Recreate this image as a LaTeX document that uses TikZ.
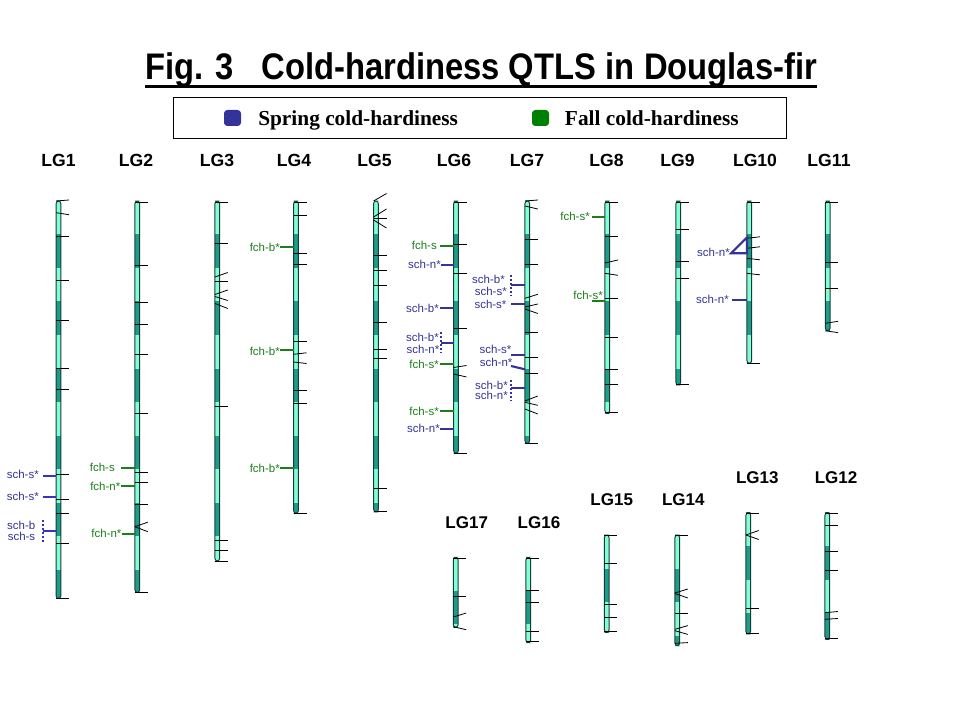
\documentclass[tikz,border=0pt]{standalone}
\usepackage{fontspec}
\setmainfont{Liberation Sans}
\newfontfamily\legserif{Liberation Serif}
\definecolor{lightband}{HTML}{80FFD6}
\definecolor{darkband}{HTML}{1A9E88}
\definecolor{barline}{HTML}{1A3A3A}
\definecolor{qblue}{HTML}{333399}
\definecolor{qblueb}{HTML}{3535C0}
\definecolor{qgreen}{HTML}{1A7F1A}
\definecolor{leggreen}{HTML}{008000}
\newcommand\chrom[3]{%
  \begin{scope}
    \clip[rounded corners=2] ({#1-2.4},#2) rectangle ({#1+2.4},#3);
    \fill[lightband] ({#1-2.4},#2) rectangle ({#1+2.4},#3);
    \foreach \k in {1,3,5,7,9,11,13} {
      \fill[darkband] ({#1-2.4},{#2+\k*33.5}) rectangle ({#1+2.4},{#2+(\k+1)*33.5});
    }
  \end{scope}
  \draw[barout,rounded corners=2] ({#1-2.4},#2) rectangle ({#1+2.4},#3);
}
\newcommand\ticks[2]{%
  \foreach \yy/\dd in {#2} {\draw[tick] ({#1-2.4},\yy) -- ({#1+10.5},{\yy+\dd});}%
}
\begin{document}
\begin{tikzpicture}[x=0.75pt,y=-0.75pt,
  tick/.style={line width=0.6pt,black},
  barout/.style={line width=0.7pt,draw=barline},
  mkb/.style={line width=1.6pt,draw=qblue},
  mkg/.style={line width=1.6pt,draw=qgreen},
  bl/.style={text=qblue,font=\fontsize{8.6}{10}\selectfont,inner sep=0pt,anchor=east},
  gr/.style={text=qgreen,font=\fontsize{8.6}{10}\selectfont,inner sep=0pt,anchor=east},
  lg/.style={font=\fontsize{13.2}{15}\selectfont\bfseries,inner sep=0pt},
  lgs/.style={font=\fontsize{12.75}{14}\selectfont\bfseries,inner sep=0pt},
  dotsb/.style={line width=1.4pt,draw=qblue,dash pattern=on 1.4pt off 1.6pt}
]
\useasboundingbox (0,0) rectangle (960,720);
\fill[white] (0,0) rectangle (960,720);

% title
\node[anchor=base,inner sep=0pt,font=\fontsize{27.75}{30}\selectfont\bfseries] (title) at (481,80)
  {\scalebox{0.885}[1]{Fig. 3\hspace{0.85em}Cold-hardiness QTLS in\hspace{0.3em}Douglas-fir}};
\draw[line width=1.9pt] (145,86.5) -- (817,86.5);

% legend
\draw[line width=0.7pt] (173,97) rectangle (786,138);
\fill[qblue,rounded corners=2.5] (224,110) rectangle (241,126);
\fill[leggreen,rounded corners=2.5] (532,110) rectangle (549,126);
\node[anchor=base west,inner sep=0pt,font=\legserif\fontsize{16}{18}\selectfont\bfseries] (spr) at (258,126) {Spring cold-hardiness};
\node[anchor=base west,inner sep=0pt,font=\legserif\fontsize{16}{18}\selectfont\bfseries] (fal) at (564.7,126) {Fall cold-hardiness};

% LG labels
\node[lg] (t1) at (58.5,160) {LG1};
\node[lg] (t2) at (136,160) {LG2};
\node[lg] (t3) at (217,160) {LG3};
\node[lg] (t4) at (294,160) {LG4};
\node[lg] (t5) at (374.5,160) {LG5};
\node[lg] (t6) at (454,160) {LG6};
\node[lg] (t7) at (527,160) {LG7};
\node[lg] (t8) at (606.5,160) {LG8};
\node[lg] (t9) at (677.5,160) {LG9};
\node[lg] (t10) at (755,160) {LG10};
\node[lg] (t11) at (829,160) {LG11};
\node[lgs] (t17) at (466.7,522.7) {LG17};
\node[lgs] (t16) at (539,522.7) {LG16};
\node[lgs] (t15) at (611.7,500) {LG15};
\node[lgs] (t14) at (683.3,500) {LG14};
\node[lgs] (t13) at (757.3,477.3) {LG13};
\node[lgs] (t12) at (836,477.3) {LG12};

% chromosomes
\chrom{58.5}{201}{598.5}
\ticks{58.5}{201/-1,212.7/2,236.7/0,280.3/0,320.3/0,368.7/0,389.3/0,474.3/0,499.3/0,513.3/0,543.3/0,598.3/0}
\chrom{137.3}{201}{592.5}
\ticks{137.3}{202.3/0,265.7/0,302.7/0,324.3/0,354.3/0,413.3/0,472.3/0,482.3/0,504.3/0,526.7/-4.5,526.7/5,592.3/0}
\chrom{217.3}{201}{561}
\ticks{217.3}{202.3/0,243.3/0,277/-4.5,281/0,294.5/-4.5,296.5/4,303.5/5,406/0,540.3/0,550.3/0,561/0}
\chrom{296}{201}{513.3}
\ticks{296}{202.3/0,215.3/0,253.3/0,264.3/0,341.7/0,354.3/-1.5,362/1.5,390/0,403.3/0,513.3/0}
\chrom{376}{201}{512}
\ticks{376}{201/-7.5,217/-8,218.3/0,220/8,255.7/0,270.3/0,285/0,322/0,349.3/0,358.3/0,488.3/0,511.7/0}
\chrom{456}{201}{453.3}
\ticks{456}{202.3/0,244.3/0,273.3/0,328.3/0,367.5/-2,374/3,453.3/0}
\chrom{527.3}{201}{443.3}
\ticks{527.3}{201/-1,206/3,239/0,264.3/0,298.3/-4,307/-3,309/4.5,332.3/0,357.3/0,373.3/0,401/-5,402.3/3,409/5,443.3/0}
\chrom{607.3}{201}{413.3}
\ticks{607.3}{202.3/0,236.7/0,263/-3,273.3/2,298.3/0,337.3/0,369.3/0,384.3/0,412.7/0}
\chrom{678.3}{201}{385}
\ticks{678.3}{202.3/0,229.3/0,261.7/0,278.3/0,384.3/0}
\chrom{749.3}{201}{363.3}
\ticks{749.3}{202.3/0,238.3/-1.5,248.3/-1.5,258.3/1.5,273.3/1.5,363.3/0}
\chrom{827.7}{201}{330.7}
\ticks{827.7}{202.3/0,262.3/0,288.7/0,323.3/-2,330.7/2}
\chrom{455.7}{557.3}{627.3}
\ticks{455.7}{558.3/0,596/0,617/-4,626.7/3}
\chrom{528.3}{557.3}{642.7}
\ticks{528.3}{558.3/0,590.7/0,602.3/0,631.7/0,641.7/0}
\chrom{606.7}{535}{632.3}
\ticks{606.7}{535.7/0,563.7/0,604.3/0,617.3/0,631.7/0}
\chrom{677.3}{535}{645.7}
\ticks{677.3}{535.7/0,593/-4,593.5/4.5,613.3/0,629.3/-3.7,630.7/3.7,643.3/-0.7}
\chrom{748.3}{512.7}{634}
\ticks{748.3}{513.3/0,535/-4.5,535/4.5,608.3/0,633.3/0}
\chrom{827.3}{512.7}{639.3}
\ticks{827.3}{513.3/0,525.7/0,551/0,570/0,612.7/-1.2,619.3/-0.8,638.3/0}

% LG1 QTLs
\node[bl] (a1) at (39,474.3) {sch-s*};
\draw[mkb,draw=qblueb] (42.7,476) -- (56.1,476);
\node[bl] (a2) at (39,496.7) {sch-s*};
\draw[mkb,draw=qblueb] (42.7,497) -- (56.1,497);
\node[bl] (a3) at (35.5,525) {sch-b};
\node[bl] (a4) at (35.5,536.7) {sch-s};
\draw[dotsb,draw=qblueb] (42.7,520) -- (42.7,542);
\draw[mkb,draw=qblueb] (42.7,530.7) -- (56.1,530.7);

% LG2 QTLs
\node[gr] (b1) at (115,467.7) {fch-s};
\draw[mkg] (121,467.7) -- (134.9,467.7);
\node[gr] (b2) at (120.5,486) {fch-n*};
\draw[mkg] (121,486) -- (134.9,486);
\node[gr] (b3) at (121.7,533.3) {fch-n*};
\draw[mkg] (121.7,534) -- (134.9,534);

% LG4 QTLs
\node[gr] (c1) at (280,247.3) {fch-b*};
\draw[mkg] (280,247) -- (293.6,247);
\node[gr] (c2) at (280,351) {fch-b*};
\draw[mkg] (280,350) -- (293.6,350);
\node[gr] (c3) at (280,468.3) {fch-b*};
\draw[mkg] (280,467.7) -- (293.6,467.7);

% LG6 QTLs
\node[gr] (d1) at (437,245.7) {fch-s};
\draw[mkg] (440,246) -- (453.6,246);
\node[bl] (d2) at (441,264) {sch-n*};
\draw[mkb] (440.7,264.7) -- (453.6,264.7);
\node[bl] (d3) at (439,308.3) {sch-b*};
\draw[mkb] (440,308) -- (453.6,308);
\node[bl] (d4) at (439,337) {sch-b*};
\node[bl] (d5) at (439.5,349.3) {sch-n*};
\draw[dotsb] (441,331.7) -- (441,353.3);
\draw[mkb] (441,342.7) -- (453.6,342.7);
\node[gr] (d6) at (439,364.3) {fch-s*};
\draw[mkg] (440,364) -- (453.6,364);
\node[gr] (d7) at (439,411) {fch-s*};
\draw[mkg] (440,411) -- (453.6,411);
\node[bl] (d8) at (440,428.3) {sch-n*};
\draw[mkb] (440,428.7) -- (453.6,428.7);

% LG7 QTLs
\node[bl] (e1) at (505,279.3) {sch-b*};
\node[bl] (e2) at (507,291.7) {sch-s*};
\draw[dotsb] (511,275) -- (511,296);
\draw[mkb] (511,285.3) -- (524.9,285.3);
\node[bl] (e3) at (506.7,304) {sch-s*};
\draw[mkb] (511,303.7) -- (524.9,303.7);
\node[bl] (e4) at (511.7,349.3) {sch-s*};
\draw[mkb] (511,355) -- (524.9,355);
\node[bl] (e5) at (512.7,362.3) {sch-n*};
\draw[mkb] (511,366) -- (524.9,369.3);
\node[bl] (e6) at (508,385.3) {sch-b*};
\node[bl] (e7) at (508,395.7) {sch-n*};
\draw[dotsb] (511,380) -- (511,400.7);
\draw[mkb] (511,387.7) -- (524.9,387.7);

% LG8 QTLs
\node[gr] (f1) at (590,216) {fch-s*};
\draw[mkg] (591.7,217) -- (604.9,217);
\node[gr] (f2) at (603,295) {fch-s*};
\draw[mkg] (591.7,300.7) -- (604.9,300.7);

% LG10 QTLs
\node[bl] (g1) at (730,252.3) {sch-n*};
\draw[mkb,line join=miter] (731,253.3) -- (747,237.5) -- (747,253.3) -- cycle;
\node[bl] (g2) at (729,299.3) {sch-n*};
\draw[mkb] (731.7,300) -- (746.9,300);
\end{tikzpicture}
\end{document}
